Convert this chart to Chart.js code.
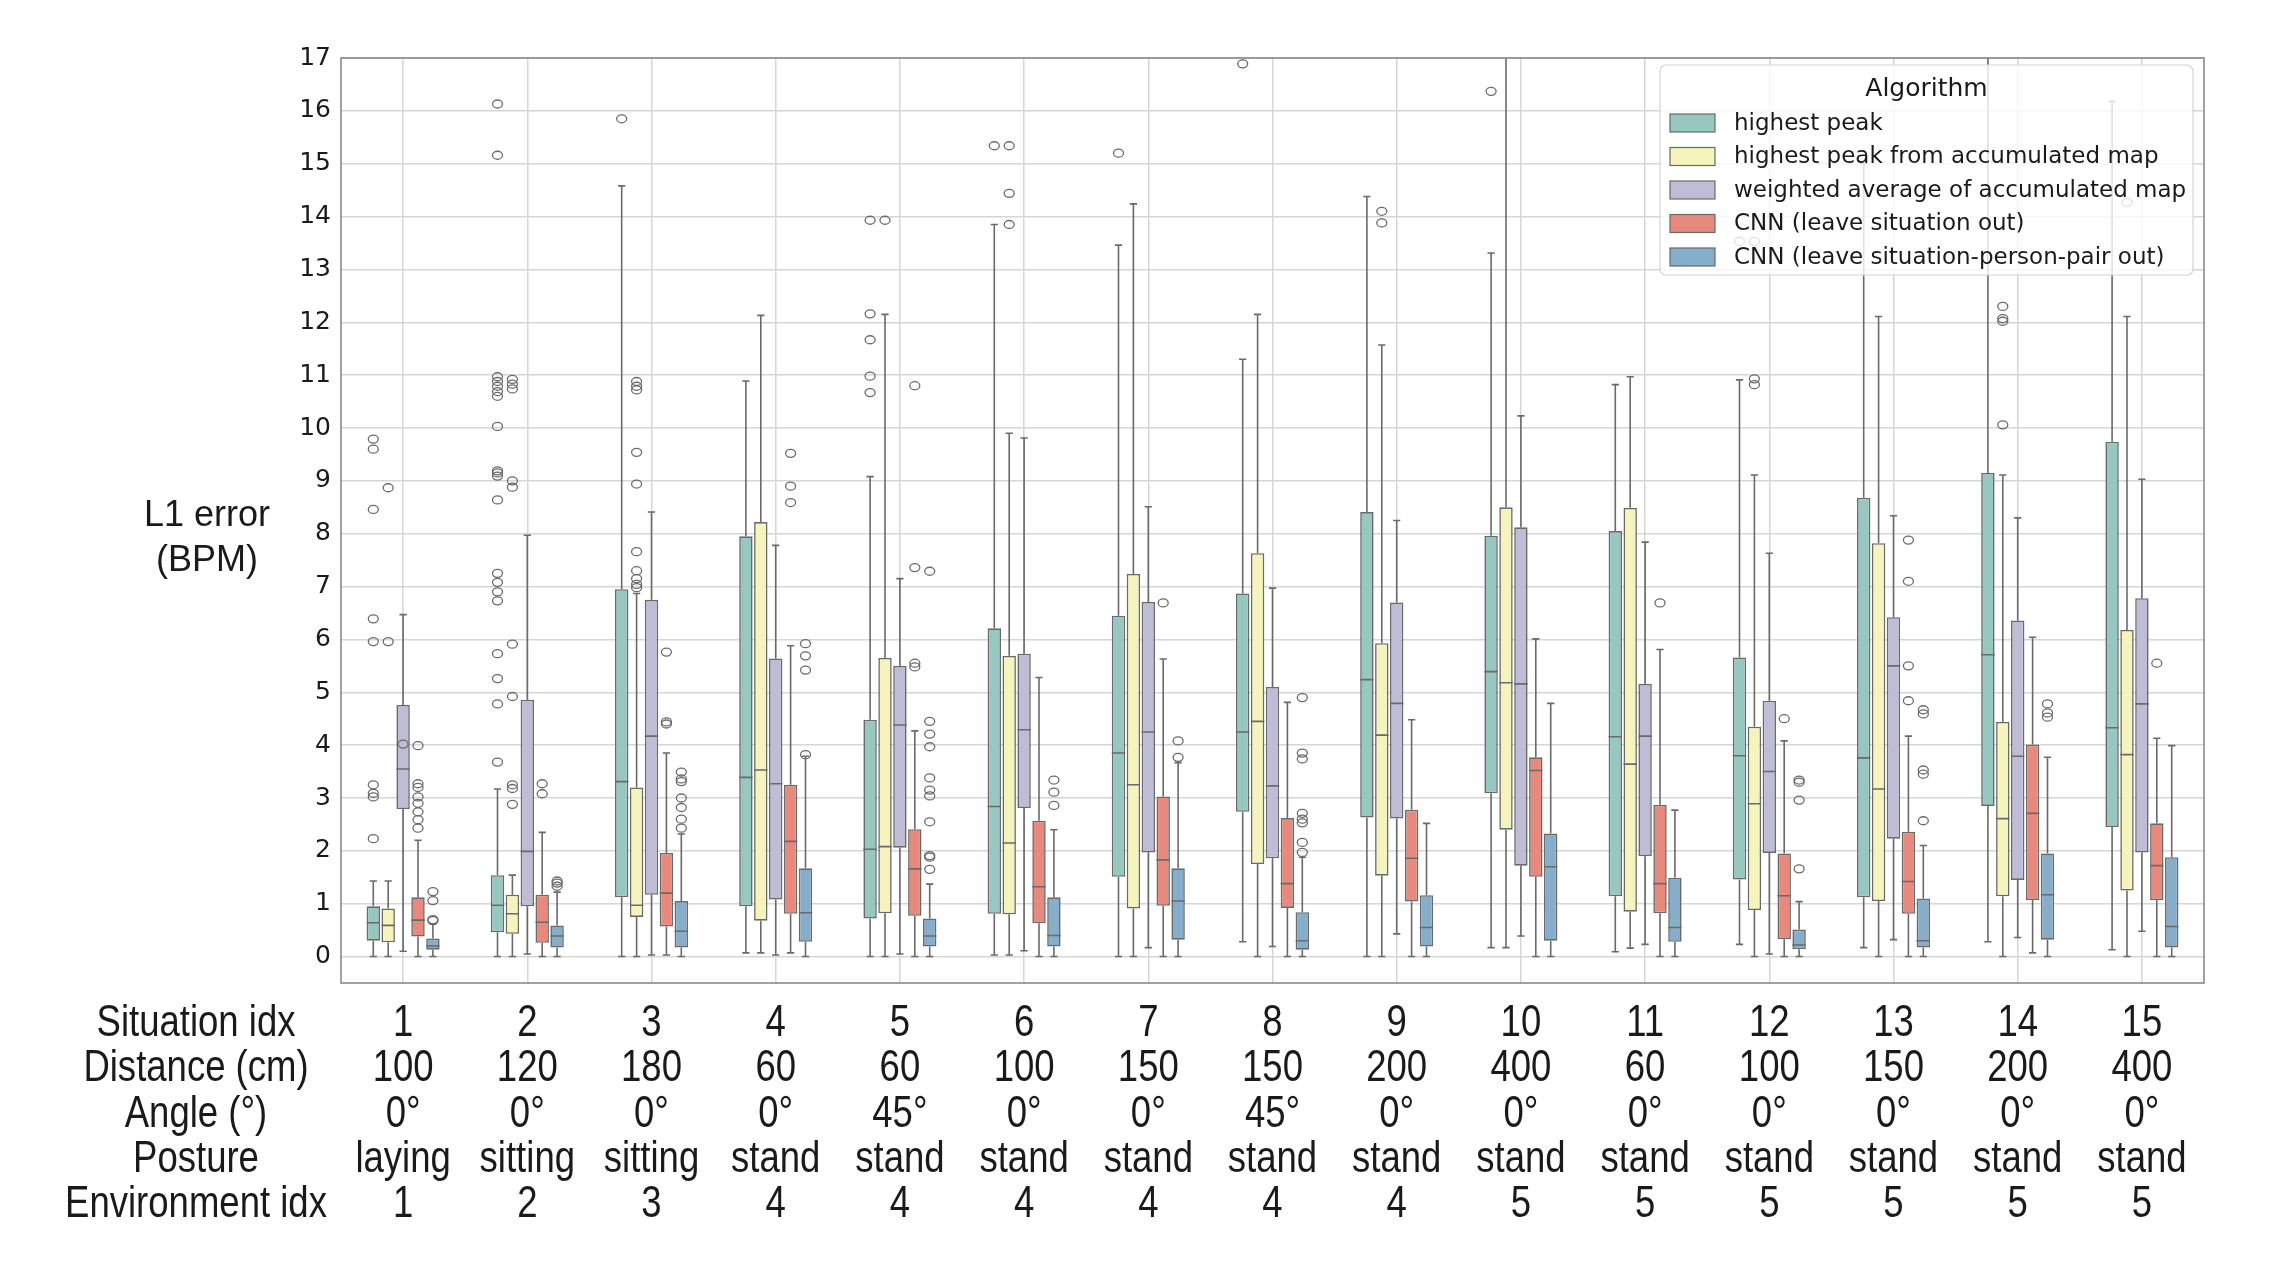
<!DOCTYPE html>
<html>
<head>
<meta charset="utf-8">
<script src="https://cdn.jsdelivr.net/npm/chart.js@4.4.1/dist/chart.umd.min.js"></script>
<style>
  html, body { margin: 0; padding: 0; background: #fff; }
  #wrap { width: 2272px; height: 1277px; position: relative; }
</style>
</head>
<body>
<div id="wrap"><canvas id="boxChart"></canvas></div>
<script>
// table under the plot
var situations   = ['1','2','3','4','5','6','7','8','9','10','11','12','13','14','15'];
var distances    = ['100','120','180','60','60','100','150','150','200','400','60','100','150','200','400'];
var angles       = ['0°','0°','0°','0°','45°','0°','0°','45°','0°','0°','0°','0°','0°','0°','0°'];
var postures     = ['laying','sitting','sitting','stand','stand','stand','stand','stand','stand','stand','stand','stand','stand','stand','stand'];
var environments = ['1','2','3','4','4','4','4','4','4','5','5','5','5','5','5'];
var rowHeaders   = ['Situation idx', 'Distance (cm)', 'Angle (°)', 'Posture', 'Environment idx'];

var algorithms = ['highest peak', 'highest peak from accumulated map', 'weighted average of accumulated map',
                  'CNN (leave situation out)', 'CNN (leave situation-person-pair out)'];
var colors = ['#96c8bf', '#f4f4bc', '#bfbcd6', '#e8897e', '#86adc9'];

// box stats per situation: [whisker low, q1, median, q3, whisker high]
var highestPeak = [
  [0, 0.30, 0.64, 0.95, 1.43], [0, 0.46, 0.97, 1.54, 3.17], [0, 1.12, 3.31, 6.95, 14.58],
  [0.07, 0.95, 3.39, 7.95, 10.89], [0, 0.72, 2.03, 4.48, 9.08], [0.03, 0.81, 2.84, 6.21, 13.85],
  [0, 1.51, 3.85, 6.45, 13.46], [0.28, 2.74, 4.25, 6.87, 11.30], [0, 2.63, 5.24, 8.41, 14.38],
  [0.17, 3.09, 5.39, 7.96, 13.31], [0.09, 1.14, 4.16, 8.05, 10.82], [0.23, 1.46, 3.80, 5.66, 10.91],
  [0.17, 1.12, 3.76, 8.68, 15.0], [0.28, 2.85, 5.71, 9.15, 17.6], [0.13, 2.45, 4.33, 9.74, 16.18]
];
var highestPeakOut = [
  [9.79, 9.60, 8.46, 6.39, 5.96, 3.25, 3.09, 3.02, 2.23],
  [16.13, 15.16, 10.97, 10.88, 10.79, 10.69, 10.60, 10.03, 9.19, 9.15, 9.09, 8.64, 7.25, 7.08, 6.90, 6.73, 5.73, 5.26, 4.78, 3.68],
  [15.85], [], [13.93, 12.16, 11.67, 10.98, 10.67], [15.34], [15.20], [16.89], [], [16.37], [], [13.53], [], [], []
];

var accPeak = [
  [0, 0.27, 0.59, 0.91, 1.43], [0, 0.43, 0.81, 1.17, 1.54], [0, 0.75, 0.97, 3.20, 6.87],
  [0.07, 0.68, 3.53, 8.22, 12.13], [0, 0.82, 2.08, 5.65, 12.15], [0.03, 0.80, 2.15, 5.69, 9.90],
  [0, 0.91, 3.25, 7.24, 14.24], [0, 1.75, 4.45, 7.63, 12.15], [0, 1.53, 4.19, 5.93, 11.57],
  [0.17, 2.40, 5.18, 8.50, 17.6], [0.16, 0.85, 3.64, 8.49, 10.97], [0, 0.88, 2.89, 4.35, 9.11],
  [0, 1.05, 3.17, 7.82, 12.11], [0, 1.14, 2.61, 4.44, 9.11], [0, 1.25, 3.82, 6.18, 12.11]
];
var accPeakOut = [
  [8.87, 5.96],
  [10.92, 10.83, 10.74, 9.00, 8.88, 5.91, 4.92, 3.25, 3.18, 2.88],
  [10.88, 10.79, 10.72, 9.54, 8.94, 7.66, 7.30, 7.15, 7.04, 6.98],
  [], [13.93], [15.34, 14.44, 13.85], [], [], [14.10, 13.88], [], [],
  [13.53, 10.93, 10.82], [], [12.30, 12.07, 12.02, 10.06], [14.27]
];

var weighted = [
  [0.10, 2.79, 3.55, 4.76, 6.47], [0.05, 0.95, 1.99, 4.86, 7.97], [0.03, 1.17, 4.17, 6.75, 8.41],
  [0.03, 1.08, 3.27, 5.64, 7.78], [0.05, 2.06, 4.38, 5.50, 7.15], [0.11, 2.81, 4.29, 5.73, 9.81],
  [0.17, 1.97, 4.25, 6.71, 8.51], [0.19, 1.86, 3.23, 5.10, 6.97], [0.43, 2.61, 4.79, 6.70, 8.25],
  [0.39, 1.72, 5.16, 8.12, 10.23], [0.23, 1.90, 4.17, 5.16, 7.84], [0.05, 1.96, 3.50, 4.84, 7.63],
  [0.32, 2.23, 5.50, 6.42, 8.34], [0.36, 1.45, 3.79, 6.36, 8.30], [0.48, 1.97, 4.78, 6.78, 9.03]
];
var weightedOut = [[4.02], [], [], [], [], [], [], [], [], [], [], [], [], [], []];

var cnnSit = [
  [0, 0.38, 0.69, 1.12, 2.20], [0, 0.26, 0.65, 1.17, 2.35], [0.03, 0.57, 1.20, 1.96, 3.85],
  [0.07, 0.81, 2.18, 3.25, 5.88], [0, 0.77, 1.66, 2.41, 4.27], [0, 0.63, 1.32, 2.57, 5.28],
  [0, 0.96, 1.83, 3.03, 5.63], [0, 0.92, 1.38, 2.62, 4.81], [0, 1.04, 1.86, 2.78, 4.48],
  [0, 1.51, 3.52, 3.77, 6.01], [0, 0.82, 1.38, 2.87, 5.81], [0, 0.33, 1.15, 1.95, 4.08],
  [0, 0.81, 1.42, 2.36, 4.17], [0.07, 1.07, 2.71, 4.01, 6.04], [0, 1.07, 1.72, 2.52, 4.13]
];
var cnnSitOut = [
  [3.99, 3.27, 3.20, 3.02, 2.90, 2.74, 2.59, 2.43], [3.27, 3.08], [5.76, 4.44, 4.40],
  [9.52, 8.90, 8.59], [10.80, 7.36, 5.55, 5.48], [], [6.69], [], [], [], [6.69], [4.50],
  [7.88, 7.10, 5.50, 4.84], [], [5.55]
];

var cnnPair = [
  [0, 0.13, 0.20, 0.34, 0.62], [0, 0.17, 0.39, 0.59, 1.22], [0, 0.17, 0.48, 1.05, 2.32],
  [0, 0.28, 0.83, 1.67, 3.79], [0, 0.19, 0.39, 0.72, 1.37], [0, 0.19, 0.40, 1.12, 2.40],
  [0, 0.32, 1.05, 1.67, 3.67], [0, 0.13, 0.30, 0.84, 1.88], [0, 0.19, 0.55, 1.16, 2.52],
  [0, 0.30, 1.70, 2.33, 4.79], [0, 0.28, 0.55, 1.49, 2.77], [0, 0.14, 0.22, 0.51, 1.04],
  [0, 0.17, 0.30, 1.10, 2.10], [0, 0.32, 1.17, 1.95, 3.77], [0, 0.17, 0.57, 1.88, 3.99]
];
var cnnPairOut = [
  [1.23, 1.06, 0.70, 0.68], [1.43, 1.39, 1.33], [3.49, 3.36, 3.31, 3.00, 2.82, 2.60, 2.43],
  [5.92, 5.69, 5.42, 3.82], [7.29, 4.45, 4.21, 3.97, 3.38, 3.15, 3.04, 2.55, 1.91, 1.88, 1.65],
  [3.34, 3.11, 2.86], [4.08, 3.77], [4.90, 3.85, 3.74, 2.71, 2.60, 2.53, 2.16, 1.97],
  [], [], [], [3.34, 3.30, 2.96, 1.66], [4.67, 4.59, 3.53, 3.45, 2.57], [4.78, 4.61, 4.53], []
];

var stats    = [highestPeak, accPeak, weighted, cnnSit, cnnPair];
var outliers = [highestPeakOut, accPeakOut, weightedOut, cnnSitOut, cnnPairOut];

var EDGE = '#6a6a6a';
var TICK_FONT = '"DejaVu Sans", sans-serif';
var TABLE_FONT = '"Liberation Sans", sans-serif';

function narrowText(ctx, text, x, y, squeeze) {   // condensed look of the table font
  ctx.save();
  ctx.translate(x, y);
  ctx.scale(squeeze, 1);
  ctx.fillText(text, 0, 0);
  ctx.restore();
}

// whiskers, medians, fliers on top of the floating bars
var boxParts = {
  id: 'boxParts',
  afterDatasetsDraw: function(chart) {
    var ctx = chart.ctx, y = chart.scales.y, area = chart.chartArea;
    ctx.save();
    ctx.beginPath();
    ctx.rect(area.left, area.top, area.right - area.left, area.bottom - area.top);
    ctx.clip();
    ctx.strokeStyle = EDGE;
    ctx.lineWidth = 1.6;
    for (var d = 0; d < stats.length; d++) {
      var meta = chart.getDatasetMeta(d);
      for (var i = 0; i < stats[d].length; i++) {
        var s = stats[d][i], bar = meta.data[i];
        var x = bar.x, w = bar.width, cap = w * 0.27;
        ctx.beginPath();
        ctx.moveTo(x, y.getPixelForValue(s[3])); ctx.lineTo(x, y.getPixelForValue(s[4]));
        ctx.moveTo(x, y.getPixelForValue(s[1])); ctx.lineTo(x, y.getPixelForValue(s[0]));
        ctx.moveTo(x - cap, y.getPixelForValue(s[4])); ctx.lineTo(x + cap, y.getPixelForValue(s[4]));
        ctx.moveTo(x - cap, y.getPixelForValue(s[0])); ctx.lineTo(x + cap, y.getPixelForValue(s[0]));
        ctx.moveTo(x - w / 2, y.getPixelForValue(s[2])); ctx.lineTo(x + w / 2, y.getPixelForValue(s[2]));
        ctx.stroke();
        var pts = outliers[d][i];
        for (var k = 0; k < pts.length; k++) {
          ctx.beginPath();
          ctx.ellipse(x, y.getPixelForValue(pts[k]), 5, 4, 0, 0, Math.PI * 2);
          ctx.lineWidth = 1.3;
          ctx.stroke();
          ctx.lineWidth = 1.6;
        }
      }
    }
    ctx.restore();
  },
  afterDraw: function(chart) {
    var ctx = chart.ctx, area = chart.chartArea, xs = chart.scales.x;
    ctx.save();
    // frame
    ctx.strokeStyle = '#8a8a8a';
    ctx.lineWidth = 1.6;
    ctx.strokeRect(area.left, area.top, area.right - area.left, area.bottom - area.top);

    // legend
    var lx = 1660, ly = 65, lw = 533, lh = 210;
    ctx.fillStyle = 'rgba(255,255,255,0.8)';
    ctx.strokeStyle = '#d4d4d4';
    ctx.lineWidth = 1.2;
    ctx.beginPath();
    ctx.roundRect(lx, ly, lw, lh, 6);
    ctx.fill(); ctx.stroke();
    ctx.fillStyle = '#1a1a1a';
    ctx.font = '25px ' + TICK_FONT;
    ctx.textAlign = 'center';
    ctx.textBaseline = 'middle';
    ctx.fillText('Algorithm', lx + lw / 2, 89);
    ctx.textAlign = 'left';
    ctx.font = '23px ' + TICK_FONT;
    for (var a = 0; a < algorithms.length; a++) {
      var ry = 123 + a * 33.5;
      ctx.fillStyle = colors[a];
      ctx.fillRect(1670, ry - 9, 45, 18);
      ctx.strokeStyle = EDGE;
      ctx.strokeRect(1670, ry - 9, 45, 18);
      ctx.fillStyle = '#1a1a1a';
      ctx.fillText(algorithms[a], 1734, ry + 1);
    }

    // y title
    ctx.font = '36px "Liberation Sans", sans-serif';
    ctx.textAlign = 'center';
    ctx.fillText('L1 error', 207, 516);
    ctx.fillText('(BPM)', 207, 561);

    // table rows below the axis
    var rows = [situations, distances, angles, postures, environments];
    ctx.font = '44px ' + TABLE_FONT;
    for (var r = 0; r < rows.length; r++) {
      var ty = 1024 + r * 45.3;
      narrowText(ctx, rowHeaders[r], 196, ty, 0.83);
      for (var c = 0; c < rows[r].length; c++) {
        narrowText(ctx, rows[r][c], xs.getPixelForValue(c), ty, 0.83);
      }
    }
    ctx.restore();
  }
};

function makeDatasets() {
  var ds = [];
  for (var d = 0; d < stats.length; d++) {
    ds.push({
      label: algorithms[d],
      data: stats[d].map(function(s) { return [s[1], s[3]]; }),
      backgroundColor: colors[d],
      borderColor: EDGE,
      borderWidth: 1.6,
      borderSkipped: false,
      categoryPercentage: 0.6,
      barPercentage: 0.9
    });
  }
  return ds;
}

var boxChart = new Chart(document.getElementById('boxChart').getContext('2d'), {
  type: 'bar',
  data: { labels: situations, datasets: makeDatasets() },
  options: {
    responsive: true,
    maintainAspectRatio: false,
    devicePixelRatio: 1,
    animation: false,
    layout: { padding: { top: 58, right: 2272 - 2204, left: 0, bottom: 0 } },
    plugins: { legend: { display: false }, tooltip: { enabled: false } },
    scales: {
      x: {
        offset: true,
        grid: { offset: false, color: '#d6d6d6', lineWidth: 1.5, drawTicks: false },
        border: { display: false },
        ticks: { display: false },
        afterFit: function(s) { s.height = 1277 - 983; }
      },
      y: {
        min: -0.5, max: 17,
        grid: { color: '#d6d6d6', lineWidth: 1.5, drawTicks: false },
        border: { display: false },
        ticks: {
          stepSize: 1, includeBounds: false, padding: 10, color: '#1a1a1a',
          font: { family: TICK_FONT, size: 25 }
        },
        afterFit: function(s) { s.width = 341; }
      }
    }
  },
  plugins: [boxParts]
});
</script>
</body>
</html>
